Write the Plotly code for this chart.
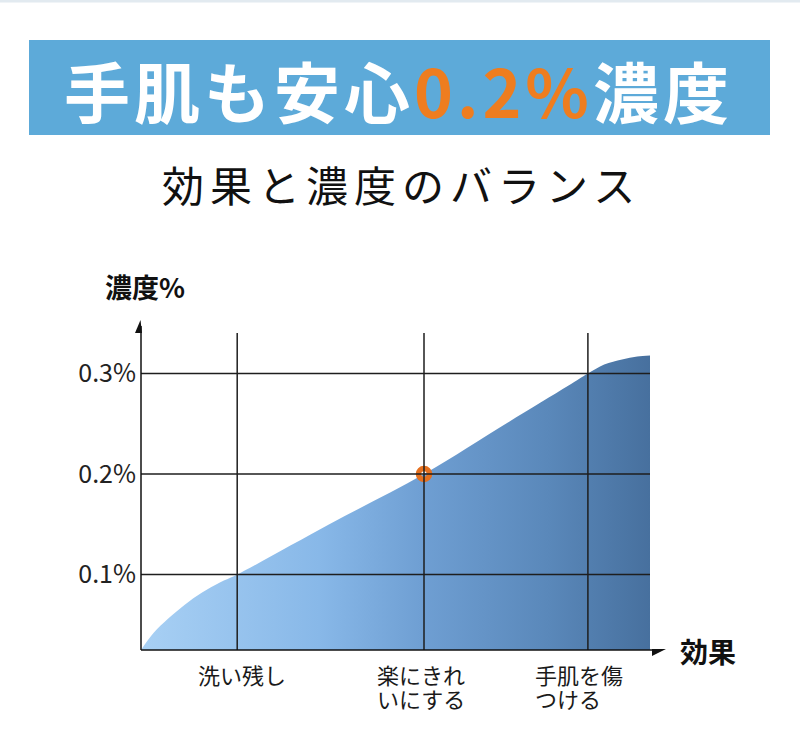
import plotly.graph_objects as go

# ---------------- data ----------------
effect_x = [0, 2.5, 5.3, 8.6, 12, 15.5, 18.9, 37, 55.6, 72, 84, 87.8, 91, 94.5, 97.5, 100]
concentration = [0.025, 0.042, 0.056, 0.07, 0.082, 0.092, 0.1, 0.15, 0.2, 0.251, 0.288, 0.30, 0.309,
                 0.314, 0.317, 0.318]
category_x = [18.9, 55.6, 87.8]
category_labels = ["洗い残し", "楽にきれ<br>いにする", "手肌を傷<br>つける"]
y_ticks = [0.1, 0.2, 0.3]
y_tick_labels = ["0.1%", "0.2%", "0.3%"]
highlight_x = [55.6]
highlight_y = [0.2]
title_white_1 = "手肌も安心"
title_orange = "0.2%"
title_white_2 = "濃度"
subtitle = "効果と濃度のバランス"
y_title = "濃度%"
x_title = "効果"

# ---------------- layout helpers ----------------
W, H = 800, 746
L, R, T, B = 141, 150, 333, 96
PW, PH = W - L - R, H - T - B
JP = "Noto Sans CJK JP"


def px(xp):
    return (xp - L) / PW


def py(yp):
    return (H - B - yp) / PH


fig = go.Figure()

fig.add_trace(go.Scatter(
    x=effect_x, y=concentration, mode="lines",
    line=dict(width=0, shape="spline", smoothing=1.0),
    fill="tozeroy",
    fillgradient=dict(type="horizontal",
                      colorscale=[[0, "#A8D0F4"], [0.35, "#88B8E8"], [0.55, "#6F9FD3"],
                                  [0.8, "#5A88BA"], [1, "#47709E"]]),
    hoverinfo="skip", showlegend=False,
))

fig.add_trace(go.Scatter(
    x=highlight_x, y=highlight_y, mode="markers",
    marker=dict(symbol="circle-open", size=11, color="#E5701F", line=dict(width=5.5, color="#E5701F")),
    showlegend=False, hoverinfo="skip", cliponaxis=False,
))

shapes = []
# top thin line
shapes.append(dict(type="rect", xref="paper", yref="paper", x0=px(0), x1=px(800), y0=py(2.5), y1=py(0),
                   fillcolor="#E2EAF0", line=dict(width=0), layer="below"))
# banner
shapes.append(dict(type="rect", xref="paper", yref="paper", x0=px(29), x1=px(770), y0=py(135), y1=py(40),
                   fillcolor="#5DAAD9", line=dict(width=0), layer="below"))
# gridlines (above the fill)
for v in y_ticks:
    shapes.append(dict(type="line", xref="paper", yref="y", x0=0, x1=1, y0=v, y1=v,
                       line=dict(color="#1E1E1E", width=1.5), layer="above"))
for v in category_x:
    shapes.append(dict(type="line", xref="x", yref="paper", x0=v, x1=v, y0=0, y1=1,
                       line=dict(color="#1E1E1E", width=1.5), layer="above"))
# axes
shapes.append(dict(type="line", xref="paper", yref="paper", x0=0, x1=0, y0=0, y1=py(326),
                   line=dict(color="#111111", width=1.5), layer="above"))
shapes.append(dict(type="line", xref="paper", yref="paper", x0=0, x1=px(656), y0=0, y1=0,
                   line=dict(color="#111111", width=1.5), layer="above"))
# arrow heads
shapes.append(dict(type="path", xref="paper", yref="paper",
                   path=f"M {px(135)},{py(333)} L {px(140.5)},{py(320)} L {px(142)},{py(333)} Z",
                   fillcolor="#111111", line=dict(width=0), layer="above"))
shapes.append(dict(type="path", xref="paper", yref="paper",
                   path=f"M {px(652)},{py(649)} L {px(666)},{py(649)} L {px(652)},{py(656)} Z",
                   fillcolor="#111111", line=dict(width=0), layer="above"))

annotations = []
# banner title
annotations.append(dict(
    xref="paper", yref="paper", x=px(398), y=py(89), xanchor="center", yanchor="middle",
    text=f"<span style='letter-spacing:4px'>{title_white_1}<span style='color:#EE7D1F'>{title_orange}</span>{title_white_2}</span>",
    showarrow=False, font=dict(family=JP, size=66, color="white", weight="bold"),
))
# subtitle
annotations.append(dict(
    xref="paper", yref="paper", x=px(401), y=py(183), xanchor="center", yanchor="middle",
    text=f"<span style='letter-spacing:6px'>{subtitle}</span>",
    showarrow=False, font=dict(family=JP, size=42, color="#111111"),
))
# axis titles
annotations.append(dict(xref="paper", yref="paper", x=px(145), y=py(286), xanchor="center", yanchor="middle",
                        text=y_title, showarrow=False,
                        font=dict(family=JP, size=27, color="#111111", weight="bold")))
annotations.append(dict(xref="paper", yref="paper", x=px(678), y=py(651), xanchor="left", yanchor="middle",
                        text=x_title, showarrow=False,
                        font=dict(family=JP, size=28, color="#111111", weight="bold")))
# category labels (left aligned blocks, tight line pitch as in the reference)
left_shift = [-41, -49, -55]
for cx, lab, sh in zip(category_x, category_labels, left_shift):
    for i, line in enumerate(lab.split("<br>")):
        annotations.append(dict(xref="x", yref="paper", x=cx, y=py(674 + 24 * i),
                                xanchor="left", yanchor="middle", xshift=sh,
                                text=line, showarrow=False,
                                font=dict(family=JP, size=22, color="#1A1A1A")))

fig.update_layout(
    width=W, height=H,
    margin=dict(l=L, r=R, t=T, b=B),
    paper_bgcolor="white", plot_bgcolor="white",
    shapes=shapes, annotations=annotations,
    xaxis=dict(range=[0, 100], showgrid=False, zeroline=False, showline=False,
               showticklabels=False, ticks="", fixedrange=True),
    yaxis=dict(range=[0.0249, 0.3403], showgrid=False, zeroline=False, showline=False,
               tickvals=y_ticks, ticktext=y_tick_labels, ticks="", ticklabelstandoff=4,
               tickfont=dict(family=JP, size=25, color="#222222"), fixedrange=True),
    showlegend=False,
)

fig.write_html("out.html", config={"displayModeBar": False},
               post_script="document.body.style.margin='0px';")
